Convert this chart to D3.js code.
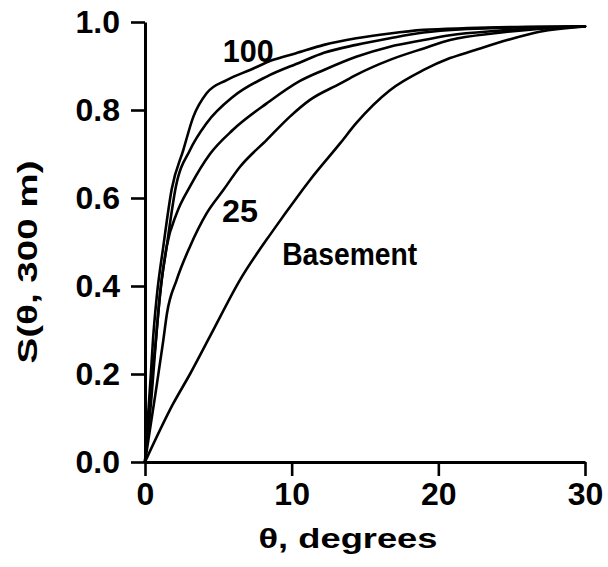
<!DOCTYPE html>
<html>
<head>
<meta charset="utf-8">
<script src="https://cdn.jsdelivr.net/npm/d3@7"></script>
<style>
  html, body { margin: 0; padding: 0; background: #fff; }
  svg text { font-family: "Liberation Sans", Arial, Helvetica, sans-serif; font-weight: bold; fill: #000; }
</style>
</head>
<body>
<svg id="chart" width="608" height="567"></svg>
<script>
// S(θ, 300 m) curves: each entry is [θ in degrees, S]
const curve100 = [[0,0],[0.2,0.1],[0.4,0.2],[0.55,0.28],[0.8,0.375],[1.25,0.49],[1.82,0.62],[2.61,0.709],[3.3,0.785],[4.2,0.838],[5.57,0.868],[7.16,0.891],[8.75,0.914],[10.3,0.929],[12.2,0.948],[14.4,0.963],[16.7,0.974],[19,0.982],[22,0.986],[26,0.989],[30,0.99]];
const curveB = [[0,0],[0.35,0.15],[0.75,0.28],[1.0,0.375],[1.48,0.49],[2.1,0.625],[3.07,0.709],[4.2,0.77],[6.0,0.83],[8.3,0.876],[10.57,0.908],[12.2,0.93],[14.4,0.948],[16.7,0.963],[19,0.976],[22,0.984],[26,0.988],[30,0.99]];
const curveC = [[0,0],[0.45,0.15],[0.8,0.30],[1.14,0.414],[1.48,0.49],[2.16,0.565],[3.1,0.628],[4.43,0.70],[6.0,0.755],[8.3,0.815],[10.57,0.866],[12.2,0.891],[14.4,0.921],[16.7,0.944],[19,0.959],[20.8,0.97],[24,0.98],[27,0.986],[30,0.99]];
const curve25 = [[0,0],[0.68,0.148],[1.25,0.277],[1.5,0.338],[2.16,0.414],[3.07,0.49],[4.2,0.565],[5.34,0.618],[6.48,0.671],[8.3,0.732],[9.88,0.785],[11.25,0.823],[13.3,0.86],[14.4,0.88],[16.7,0.914],[19,0.94],[20.8,0.959],[24,0.975],[27,0.985],[30,0.99]];
const curveBasement = [[0,0],[1.93,0.133],[3.07,0.20],[4.5,0.29],[6.48,0.414],[8.75,0.527],[10.57,0.611],[11.25,0.641],[13.3,0.724],[14.4,0.77],[16.7,0.845],[19,0.891],[20.8,0.918],[22.4,0.935],[24.7,0.959],[26.9,0.978],[30,0.99]];

const allCurves = [curve100, curveB, curveC, curve25, curveBasement];

// Curve labels: text, the [θ, S] point at the start of the baseline, and drawn width
const labelText = ["100", "25", "Basement"];
const labelAt = [[5.3, 0.91], [5.25, 0.545], [9.35, 0.447]];
const labelWidth = [51, 36, 135];

const xTicks = [0, 10, 20, 30];
const yTicks = [0.0, 0.2, 0.4, 0.6, 0.8, 1.0];

const svg = d3.select("#chart");
const margin = { left: 145, right: 23, top: 22, bottom: 105 };
const W = 608, H = 567;

const x = d3.scaleLinear().domain([0, 30]).range([margin.left, W - margin.right]);
const y = d3.scaleLinear().domain([0, 1]).range([H - margin.bottom, margin.top]);

// Curves
const line = d3.line()
  .x(d => x(d[0]))
  .y(d => y(d[1]))
  .curve(d3.curveMonotoneX);

svg.append("g")
  .selectAll("path")
  .data(allCurves)
  .join("path")
  .attr("d", line)
  .attr("fill", "none")
  .attr("stroke", "#000")
  .attr("stroke-width", 2.6)
  .attr("stroke-linejoin", "round")
  .attr("stroke-linecap", "round");

// Axes
const xAxis = svg.append("g")
  .attr("transform", `translate(0,${y(0)})`)
  .call(d3.axisBottom(x).tickValues(xTicks).tickFormat(d3.format("d"))
    .tickSize(14).tickSizeOuter(0).tickPadding(6));

const yAxis = svg.append("g")
  .attr("transform", `translate(${x(0)},0)`)
  .call(d3.axisLeft(y).tickValues(yTicks).tickFormat(d3.format(".1f"))
    .tickSize(14).tickSizeOuter(0).tickPadding(11));

[xAxis, yAxis].forEach(g => {
  g.select(".domain").attr("stroke", "#000").attr("stroke-width", 3);
  g.selectAll(".tick line").attr("stroke", "#000").attr("stroke-width", 2.6);
  g.selectAll(".tick text")
    .attr("fill", "#000")
    .style("font-size", "32px")
    .style("font-family", "'Liberation Sans', Arial, sans-serif")
    .style("font-weight", "bold");
});

// Axis titles
svg.append("text")
  .attr("x", 348)
  .attr("y", 548)
  .attr("text-anchor", "middle")
  .attr("textLength", 179)
  .attr("lengthAdjust", "spacingAndGlyphs")
  .style("font-size", "28px")
  .text("θ, degrees");

svg.append("text")
  .attr("transform", `translate(37,${262}) rotate(-90)`)
  .attr("text-anchor", "middle")
  .attr("textLength", 203)
  .attr("lengthAdjust", "spacingAndGlyphs")
  .style("font-size", "28px")
  .text("S(θ, 300 m)");

// Curve labels
svg.append("g")
  .selectAll("text")
  .data(labelText)
  .join("text")
  .attr("x", (d, i) => x(labelAt[i][0]))
  .attr("y", (d, i) => y(labelAt[i][1]))
  .attr("textLength", (d, i) => labelWidth[i])
  .attr("lengthAdjust", "spacingAndGlyphs")
  .style("font-size", "31px")
  .text(d => d);
</script>
</body>
</html>
